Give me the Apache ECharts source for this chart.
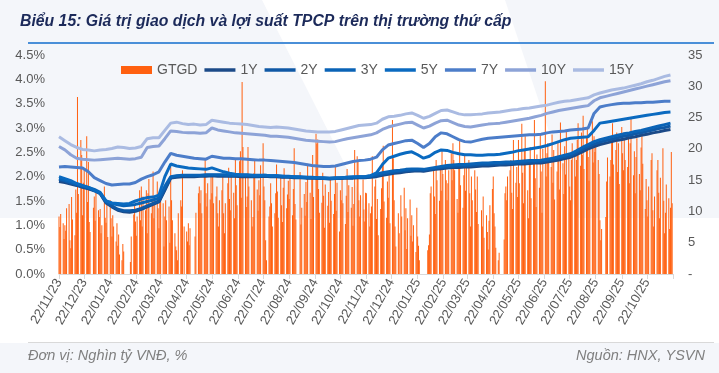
<!DOCTYPE html>
<html><head><meta charset="utf-8">
<script src="https://cdn.jsdelivr.net/npm/echarts@6/dist/echarts.min.js"></script>
<style>html,body{margin:0;padding:0;background:#fff}#c{width:719px;height:373px}</style>
</head><body><div id="c"></div>
<script>
// ---- categories / tick labels ----
const monthLabels = ['22/11/23','22/12/23','22/01/24','22/02/24','22/03/24','22/04/24','22/05/24','22/06/24','22/07/24','22/08/24','22/09/24','22/10/24','22/11/24','22/12/24','22/01/25','22/02/25','22/03/25','22/04/25','22/05/25','22/06/25','22/07/25','22/08/25','22/09/25','22/10/25'];
const axisEnd = '22/11/25';
const holidays = ['2024-01-01','2024-02-08','2024-02-09','2024-02-12','2024-02-13','2024-02-14','2024-04-18','2024-04-29','2024-04-30','2024-05-01','2024-09-02','2024-09-03','2025-01-01','2025-01-27','2025-01-28','2025-01-29','2025-01-30','2025-01-31','2025-04-07','2025-04-30','2025-05-01','2025-05-02','2025-09-01','2025-09-02'];

// ---- GTGD daily trading value (nghìn tỷ VNĐ), trading days from 22/11/2023 ----
const gtgd = [
 9.2,7.5,9.6,8.1,5.6,7.8,6.9,10.5,11.2,5.4,4.1,12.3,8.7,6.2,13.5,9.8,28.3,12.8,21.4,19.0,9.4,14.6,
 16.8,22.0,11.5,17.9,8.3,6.7,10.6,12.4,8.5,13.0,10.2,9.1,10.4,6.5,7.8,14.0,9.0,8.2,11.6,5.9,
 11.8,8.9,6.0,9.4,7.6,5.2,8.1,4.5,6.3,3.1,2.2,4.8,3.6,1.9,6.0,9.5,11.2,8.4,
 6.1,9.2,13.4,8.6,14.0,7.6,12.4,10.2,13.4,6.5,12.9,15.2,9.7,11.8,16.4,8.9,12.1,14.8,10.5,7.3,13.2,
 12.4,11.3,4.4,9.2,11.8,8.6,10.8,5.0,17.2,11.8,8.6,6.5,4.4,3.8,2.2,9.7,11.8,10.8,16.6,7.6,
 6.8,5.2,8.1,4.6,7.3,6.0,9.8,12.9,14.0,11.3,13.4,9.7,15.6,18.2,12.9,10.8,14.5,11.9,16.0,
 12.9,15.6,11.3,12.4,14.0,9.7,7.6,11.8,13.4,15.6,9.7,6.5,11.3,14.5,17.0,12.0,10.2,16.2,13.0,8.9,18.5,14.2,11.0,
 18.0,19.6,12.2,30.7,20.3,15.6,10.7,12.4,20.3,14.0,11.8,7.6,9.1,16.1,18.2,13.5,10.1,15.0,12.6,17.4,
 20.9,14.0,11.8,5.4,2.2,9.2,10.8,14.5,11.3,7.6,9.7,12.9,17.5,13.2,9.0,15.4,11.0,8.3,13.8,16.9,10.5,12.7,14.9,
 12.0,15.8,9.4,13.6,20.1,11.2,8.7,16.3,7.9,10.6,12.8,9.3,14.7,11.5,17.6,13.0,8.8,15.2,19.0,12.3,
 22.4,20.8,21.5,13.6,9.8,11.4,16.2,12.5,7.4,14.3,10.9,13.1,8.2,15.5,11.7,9.6,12.8,17.3,10.1,14.6,6.8,
 13.4,11.8,15.6,11.3,8.0,12.5,16.8,9.9,14.2,10.6,13.9,7.7,11.2,19.8,18.8,18.2,11.8,9.2,12.6,15.1,10.3,8.4,13.0,
 12.9,11.3,7.6,9.7,10.8,18.8,14.0,15.1,8.8,12.0,6.2,10.4,13.7,17.8,20.5,11.6,9.0,14.8,12.2,16.5,8.1,
 24.6,18.5,11.8,7.6,4.4,9.7,6.5,12.6,9.2,13.8,7.0,10.5,4.0,8.9,11.9,6.1,9.4,5.2,7.8,3.5,10.6,
 6.0,4.5,2.2,3.8,4.6,6.3,12.9,14.0,16.6,12.4,9.6,18.2,15.0,11.7,17.4,13.3,19.6,16.0,
 18.2,15.0,11.8,14.5,16.6,19.3,15.0,20.9,18.2,16.6,12.0,9.8,17.1,21.4,14.2,10.6,15.8,19.0,13.3,17.7,
 18.2,12.9,7.6,15.6,11.8,16.6,13.5,9.9,15.6,8.0,10.2,7.6,12.4,5.8,9.4,6.7,3.9,8.5,11.0,13.6,
 15.6,9.7,7.6,4.2,2.2,3.4,5.5,12.9,14.0,11.8,15.6,16.6,18.2,13.0,10.4,21.4,14.6,17.1,12.3,
 21.4,14.5,24.0,16.2,11.3,19.8,22.0,13.4,8.9,17.6,20.3,12.1,18.2,24.6,15.3,10.7,19.1,13.8,22.5,16.4,9.8,20.0,
 30.8,15.6,19.3,20.9,18.2,17.1,22.3,14.6,19.8,11.9,16.4,21.0,18.0,13.5,24.2,17.7,12.8,20.4,15.9,22.8,18.6,
 14.0,11.8,18.2,20.9,19.3,15.6,18.2,21.4,24.1,17.3,22.6,19.0,25.3,16.8,21.9,23.5,18.7,14.9,20.6,24.4,17.8,22.0,19.5,
 20.3,18.2,16.0,8.6,5.4,7.2,9.1,14.8,18.6,15.6,18.2,21.0,24.1,17.5,19.8,22.6,16.3,20.9,14.4,
 23.5,19.3,16.6,21.4,18.2,17.1,22.0,14.5,20.9,24.8,15.8,19.6,12.9,18.7,21.7,16.0,13.4,20.2,22.9,17.6,10.4,15.2,
 11.8,9.2,14.0,18.2,19.3,10.2,7.6,12.4,16.6,18.2,13.0,8.9,15.4,20.1,11.7,6.5,9.8,14.3,12.1,7.2,10.6,19.5,11.3
];

// ---- yields (%), weekly from 22/11/2023 ----
const y1 = [1.90,1.88,1.85,1.82,1.78,1.75,1.71,1.65,1.46,1.38,1.31,1.28,1.27,1.29,1.33,1.38,1.43,1.48,1.72,1.97,1.99,2.00,2.00,2.00,2.01,2.01,2.02,2.01,2.01,2.01,2.01,2.00,2.00,2.00,2.00,2.01,2.00,2.00,1.99,1.99,1.98,1.98,1.97,1.97,1.96,1.96,1.95,1.96,1.96,1.97,1.97,1.98,1.98,1.99,2.00,2.03,2.05,2.07,2.08,2.10,2.11,2.12,2.11,2.13,2.15,2.16,2.18,2.19,2.19,2.20,2.20,2.21,2.22,2.22,2.23,2.24,2.24,2.25,2.26,2.26,2.27,2.28,2.28,2.30,2.32,2.34,2.37,2.40,2.45,2.51,2.57,2.62,2.66,2.69,2.72,2.75,2.77,2.80,2.82,2.85,2.87,2.90,2.92,2.95,2.97];
const y2 = [1.94,1.91,1.87,1.83,1.79,1.76,1.72,1.66,1.47,1.40,1.33,1.30,1.30,1.31,1.35,1.40,1.45,1.50,1.75,1.98,2.01,2.02,2.02,2.02,2.02,2.03,2.03,2.03,2.03,2.02,2.02,2.02,2.02,2.01,2.01,2.02,2.01,2.01,2.00,2.00,1.99,1.99,1.98,1.98,1.97,1.97,1.96,1.97,1.97,1.98,1.98,1.99,1.99,2.00,2.02,2.05,2.07,2.09,2.11,2.12,2.13,2.14,2.13,2.15,2.17,2.19,2.20,2.21,2.22,2.22,2.23,2.24,2.25,2.25,2.26,2.26,2.27,2.27,2.28,2.29,2.30,2.30,2.31,2.33,2.35,2.38,2.41,2.43,2.49,2.56,2.62,2.67,2.71,2.74,2.77,2.80,2.83,2.85,2.88,2.90,2.93,2.96,2.99,3.01,3.04];
const y3 = [1.96,1.93,1.89,1.85,1.81,1.78,1.74,1.68,1.50,1.45,1.42,1.40,1.41,1.43,1.46,1.49,1.52,1.56,1.80,2.00,2.02,2.03,2.03,2.03,2.03,2.04,2.04,2.04,2.04,2.03,2.03,2.03,2.03,2.02,2.02,2.03,2.02,2.02,2.01,2.01,2.00,2.00,1.99,1.99,1.98,1.98,1.97,1.98,1.98,1.99,1.99,2.00,2.00,2.02,2.05,2.08,2.10,2.12,2.13,2.15,2.16,2.16,2.15,2.17,2.19,2.21,2.23,2.24,2.25,2.25,2.26,2.27,2.28,2.28,2.29,2.29,2.30,2.30,2.31,2.32,2.33,2.33,2.34,2.36,2.38,2.41,2.44,2.47,2.53,2.60,2.66,2.72,2.76,2.79,2.82,2.85,2.88,2.90,2.93,2.95,2.98,3.01,3.04,3.07,3.10];
const y5 = [2.00,1.96,1.92,1.86,1.82,1.78,1.72,1.66,1.50,1.46,1.45,1.44,1.45,1.50,1.54,1.57,1.58,1.62,2.00,2.26,2.22,2.20,2.18,2.17,2.16,2.15,2.18,2.14,2.10,2.07,2.05,2.04,2.04,2.03,2.03,2.03,2.02,2.02,2.01,2.00,2.00,1.99,1.99,1.98,1.98,1.97,1.97,1.97,1.98,1.99,2.00,2.00,2.00,2.02,2.08,2.25,2.38,2.42,2.46,2.49,2.51,2.45,2.38,2.42,2.50,2.55,2.54,2.50,2.47,2.45,2.45,2.44,2.44,2.45,2.45,2.46,2.48,2.50,2.53,2.55,2.57,2.59,2.61,2.64,2.68,2.72,2.76,2.79,2.80,2.81,2.82,2.95,3.10,3.12,3.14,3.16,3.18,3.20,3.22,3.24,3.26,3.28,3.30,3.32,3.33];
const y7 = [2.20,2.21,2.20,2.19,2.18,2.10,1.98,1.92,1.86,1.83,1.84,1.85,1.85,1.88,1.95,2.00,2.04,2.10,2.30,2.48,2.44,2.42,2.40,2.38,2.37,2.36,2.42,2.40,2.38,2.38,2.37,2.37,2.36,2.35,2.34,2.34,2.33,2.32,2.31,2.30,2.29,2.27,2.25,2.23,2.22,2.21,2.21,2.22,2.25,2.28,2.31,2.33,2.34,2.36,2.40,2.55,2.65,2.68,2.71,2.74,2.75,2.68,2.60,2.68,2.82,2.90,2.88,2.82,2.76,2.72,2.71,2.74,2.77,2.79,2.80,2.81,2.82,2.83,2.84,2.85,2.86,2.86,2.87,2.90,2.92,2.93,2.94,2.96,2.97,2.98,3.00,3.30,3.43,3.46,3.48,3.50,3.51,3.51,3.52,3.52,3.53,3.53,3.54,3.55,3.55];
const y10 = [2.62,2.55,2.45,2.38,2.36,2.35,2.34,2.35,2.36,2.37,2.38,2.37,2.36,2.37,2.40,2.60,2.62,2.63,2.78,2.94,2.93,2.91,2.90,2.90,2.89,2.90,3.00,2.96,2.94,2.92,2.90,2.89,2.88,2.87,2.86,2.85,2.83,2.83,2.82,2.81,2.79,2.77,2.75,2.74,2.73,2.72,2.71,2.72,2.75,2.78,2.80,2.82,2.84,2.86,2.90,2.97,3.02,3.05,3.08,3.11,3.12,3.06,3.00,3.04,3.10,3.15,3.16,3.11,3.06,3.03,3.02,3.04,3.06,3.08,3.09,3.10,3.12,3.14,3.16,3.18,3.20,3.23,3.26,3.30,3.33,3.36,3.38,3.40,3.42,3.44,3.46,3.56,3.62,3.65,3.68,3.71,3.74,3.77,3.80,3.83,3.86,3.89,3.92,3.95,3.97];
const y15 = [2.82,2.74,2.66,2.60,2.56,2.55,2.53,2.55,2.56,2.58,2.61,2.60,2.58,2.59,2.62,2.78,2.80,2.80,2.95,3.10,3.12,3.09,3.07,3.08,3.06,3.07,3.16,3.14,3.12,3.10,3.09,3.08,3.07,3.05,3.03,3.02,3.01,3.02,3.01,3.00,2.98,2.96,2.94,2.93,2.92,2.92,2.92,2.93,2.96,2.99,3.02,3.05,3.06,3.07,3.10,3.18,3.23,3.24,3.26,3.29,3.31,3.26,3.20,3.24,3.30,3.36,3.37,3.33,3.29,3.27,3.27,3.28,3.29,3.31,3.32,3.33,3.35,3.37,3.38,3.40,3.41,3.43,3.45,3.47,3.50,3.53,3.55,3.56,3.58,3.60,3.62,3.68,3.72,3.75,3.78,3.80,3.82,3.85,3.88,3.91,3.95,3.98,4.02,4.06,4.09];

const seriesNames = ['1Y','2Y','3Y','5Y','7Y','10Y','15Y'];
const seriesColors = ['#1B4A88','#0F58A5','#0A63B6','#0A6AC0','#4C7DC9','#8DA3D7','#AABBE2'];

// ---- build helpers ----
function parseLabel(s){const p=s.split('/');return +new Date(2000+(+p[2]),(+p[1])-1,+p[0]);}
function iso(d){const m=d.getMonth()+1,dd=d.getDate();return d.getFullYear()+'-'+(m<10?'0':'')+m+'-'+(dd<10?'0':'')+dd;}
const tickTs = monthLabels.map(parseLabel);
const endTs = parseLabel(axisEnd);
const labelMap = {}; monthLabels.forEach((l,i)=>{labelMap[tickTs[i]]=l;});
const tradeDays = [];
(function(){let d=new Date(2023,10,22);const e=new Date(2025,10,21);
 while(d<=e){const w=d.getDay();if(w!==0&&w!==6&&holidays.indexOf(iso(d))<0)tradeDays.push(+d);d.setDate(d.getDate()+1);}})();
const barData = gtgd.slice(0,tradeDays.length).map((v,i)=>[tradeDays[i],v]);
function weekTs(i){return +new Date(2023,10,22+7*i);}
const yields=[y1,y2,y3,y5,y7,y10,y15];

const chart = echarts.init(document.getElementById('c'),null,{renderer:'canvas'});
const lineSeries = yields.map((arr,k)=>({
  name:seriesNames[k], type:'line', yAxisIndex:0, symbol:'none', smooth:false,
  lineStyle:{width:3,color:seriesColors[k]}, itemStyle:{color:seriesColors[k]},
  data:arr.map((v,i)=>[weekTs(i),v]), z:3+k
}));
const txt = '#595959';
const lineIcon = 'path://M0,0H32V3.6H0Z';
chart.setOption({
  animation:false,
  backgroundColor:'#F4F6FA',
  textStyle:{fontFamily:'"Liberation Sans", Arial, sans-serif'},
  graphic:[
    {type:'polygon',z:-10,silent:true,shape:{points:[[262,0],[505,0],[578,218],[719,218],[719,343],[0,343],[0,218],[372,218]]},style:{fill:'#FFFFFF'}},
    {type:'text',left:20,top:14,style:{text:'Biểu 15: Giá trị giao dịch và lợi suất TPCP trên thị trường thứ cấp',fill:'#1C2A5A',font:'italic bold 15.8px "Liberation Sans", Arial, sans-serif'}},
    {type:'rect',shape:{x:28,y:42,width:686,height:2},style:{fill:'#4A8FD8'}},
    {type:'rect',shape:{x:28,y:342,width:686,height:1},style:{fill:'#D9D9D9'}},
    {type:'text',left:28,top:348,style:{text:'Đơn vị: Nghìn tỷ VNĐ, %',fill:'#7F7F7F',font:'italic 14.5px "Liberation Sans", Arial, sans-serif'}},
    {type:'text',right:14,top:348,style:{text:'Nguồn: HNX, YSVN',fill:'#7F7F7F',font:'italic 14.5px "Liberation Sans", Arial, sans-serif'}}
  ],
  legend:{
    top:58,left:116,itemWidth:31,itemHeight:8,itemGap:7,
    textStyle:{color:txt,fontSize:14},
    data:[{name:'GTGD',icon:'rect'}].concat(seriesNames.map(n=>({name:n,icon:lineIcon})))
  },
  grid:{left:59,right:46,top:55,bottom:99,containLabel:false},
  xAxis:{
    type:'value', min:tickTs[0], max:endTs, scale:true,
    axisLine:{show:true,onZero:false,lineStyle:{color:'#D9D9D9'}},
    axisTick:{show:true,length:5,lineStyle:{color:'#D9D9D9'},customValues:tickTs.concat([endTs])},
    axisLabel:{customValues:tickTs,rotate:60,color:txt,fontSize:13,margin:6,formatter:v=>labelMap[v]||'',hideOverlap:false},
    splitLine:{show:false}
  },
  yAxis:[
    {type:'value',min:0,max:4.5,interval:0.5,axisLine:{show:false},axisTick:{show:false},splitLine:{show:false},
     axisLabel:{color:txt,fontSize:13,margin:14,formatter:v=>v.toFixed(1)+'%'}},
    {type:'value',min:0,max:35,interval:5,axisLine:{show:false},axisTick:{show:false},splitLine:{show:false},
     axisLabel:{color:txt,fontSize:13,margin:15,formatter:v=>v===0?'-':String(v)}}
  ],
  series:[{name:'GTGD',type:'bar',yAxisIndex:1,barWidth:1,itemStyle:{color:'#FF6010'},data:barData,z:2}].concat(lineSeries)
});
</script></body></html>
